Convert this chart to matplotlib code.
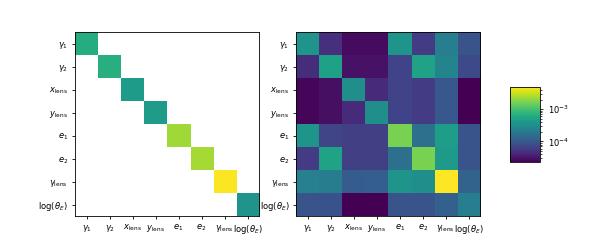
import numpy as np
import matplotlib
matplotlib.use("Agg")
import matplotlib.pyplot as plt
from matplotlib.colors import LogNorm

labels = [r'$\gamma_1$', r'$\gamma_2$', r'$x_{\rm lens}$', r'$y_{\rm lens}$',
          r'$e_1$', r'$e_2$', r'$\gamma_{\rm lens}$', r'$\log(\theta_E)$']

# diagonal-only covariance (left panel)
diag_vals = [6.4e-4, 6.7e-4, 4.4e-4, 4.4e-4, 2.3e-3, 2.4e-3, 4.7e-3, 3.7e-4]

# full covariance (right panel), abs values
cov_g1 = [3.7e-4, 4.85e-5, 2.7e-5, 2.7e-5, 3.7e-4, 6.0e-5, 2.3e-4, 9.2e-5]
cov_g2 = [4.6e-5, 4.9e-4, 3.0e-5, 3.0e-5, 6.7e-5, 5.1e-4, 2.56e-4, 7.5e-5]
cov_xl = [2.55e-5, 2.85e-5, 3.35e-4, 4.4e-5, 6.7e-5, 6.0e-5, 9.8e-5, 2.3e-5]
cov_yl = [2.55e-5, 2.85e-5, 4.4e-5, 3.35e-4, 6.7e-5, 6.0e-5, 9.8e-5, 2.3e-5]
cov_e1 = [3.7e-4, 7.1e-5, 6.4e-5, 6.4e-5, 1.67e-3, 1.67e-4, 4.6e-4, 9.2e-5]
cov_e2 = [6.0e-5, 5.1e-4, 6.4e-5, 6.4e-5, 1.67e-4, 1.67e-3, 4.15e-4, 9.2e-5]
cov_gl = [2.4e-4, 2.2e-4, 1.1e-4, 1.15e-4, 3.7e-4, 3.35e-4, 4.9e-3, 1.28e-4]
cov_th = [9.2e-5, 8.8e-5, 2.3e-5, 2.3e-5, 9.2e-5, 9.2e-5, 1.2e-4, 2.3e-4]

vmin, vmax = 2.3e-5, 4.9e-3

full = np.array([cov_g1, cov_g2, cov_xl, cov_yl, cov_e1, cov_e2, cov_gl, cov_th])
diag_mat = np.diag(diag_vals)
diag_mat[diag_mat == 0] = np.nan

fs = 6
fig = plt.figure(figsize=(6, 2.5), dpi=100)
ax1 = fig.add_axes([0.125, 0.136, 0.307, 0.736])
ax2 = fig.add_axes([0.493, 0.136, 0.308, 0.736])
cax = fig.add_axes([0.85, 0.352, 0.05, 0.3])

norm = LogNorm(vmin=vmin, vmax=vmax)
ax1.imshow(diag_mat, cmap='viridis', norm=norm)
im = ax2.imshow(full, cmap='viridis', norm=norm)

for ax in (ax1, ax2):
    ax.set_xticks(range(len(labels)))
    ax.set_yticks(range(len(labels)))
    ax.set_xticklabels(labels, fontsize=fs)
    ax.set_yticklabels(labels, fontsize=fs)
    ax.tick_params(length=2.5, width=0.6, pad=2.5)
    for s in ax.spines.values():
        s.set_linewidth(0.6)

cb = fig.colorbar(im, cax=cax)
cb.ax.tick_params(labelsize=fs, length=2.5, width=0.6)
cb.ax.tick_params(which='minor', length=1.5, width=0.5)
cb.outline.set_linewidth(0.6)

fig.savefig("out.png", dpi=100)
